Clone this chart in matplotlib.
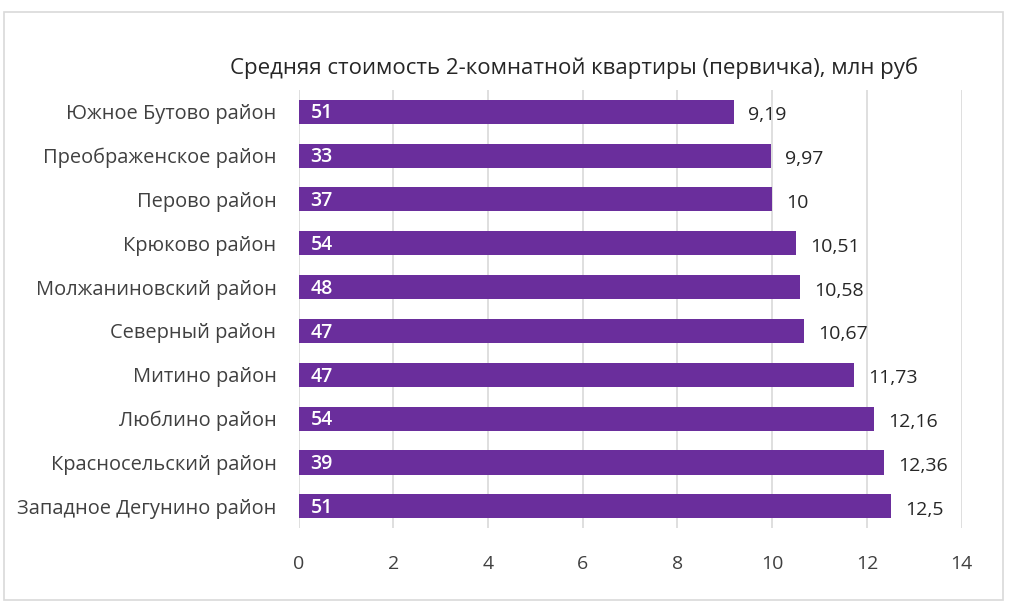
import matplotlib
matplotlib.use("Agg")

import matplotlib.pyplot as plt
from matplotlib.patches import Rectangle
import numpy as np

# Data (top to bottom as shown)
districts = [
    "Южное Бутово район",
    "Преображенское район",
    "Перово район",
    "Крюково район",
    "Молжаниновский район",
    "Северный район",
    "Митино район",
    "Люблино район",
    "Красносельский район",
    "Западное Дегунино район",
]
prices = [9.19, 9.97, 10.0, 10.51, 10.58, 10.67, 11.73, 12.16, 12.36, 12.5]
price_labels = ["9,19", "9,97", "10", "10,51", "10,58", "10,67", "11,73", "12,16", "12,36", "12,5"]
counts = [51, 33, 37, 54, 48, 47, 47, 54, 39, 51]
xticks = [0, 2, 4, 6, 8, 10, 12, 14]

plt.rcParams["font.family"] = ["Open Sans", "DejaVu Sans"]

BAR = "#6A2E9C"
TXT = "#404040"

fig = plt.figure(figsize=(10.09, 6.15), dpi=100)
fig.patch.set_facecolor("white")

# outer chart border
fig.patches.append(Rectangle((0.004, 0.025), 0.99, 0.955, transform=fig.transFigure,
                             fill=False, edgecolor="#D9D9D9", linewidth=1.2))

ax = fig.add_axes([0.296, 0.141, 0.657, 0.713])
y = np.arange(len(districts))
bars = ax.barh(y, prices, height=0.55, color=BAR, zorder=3)

ax.set_xlim(0, 14)
ax.set_ylim(-0.5, len(districts) - 0.5)
ax.invert_yaxis()
ax.set_xticks(xticks)
ax.set_xticklabels([str(t) for t in xticks], fontsize=14, color=TXT)
ax.set_yticks(y)
ax.set_yticklabels(districts, fontsize=14.4, color=TXT)
ax.tick_params(axis="both", length=0)
ax.tick_params(axis="x", pad=19)
ax.tick_params(axis="y", pad=16)
ax.grid(axis="x", color="#D9D9D9", linewidth=1.2, zorder=0)
for s in ax.spines.values():
    s.set_visible(False)

for i, (p, lbl, c) in enumerate(zip(prices, price_labels, counts)):
    ax.text(0.25, i + 0.04, str(c), ha="left", va="center", color="white",
            fontsize=14, fontweight="semibold", zorder=4)
    ax.text(p + 0.3, i + 0.08, lbl, ha="left", va="center", color="#262626",
            fontsize=14, zorder=4)

fig.text(0.569, 0.89, "Средняя стоимость 2-комнатной квартиры (первичка), млн руб",
         ha="center", va="center", fontsize=16, color="#262626")

fig.savefig("out.png", dpi=100)
